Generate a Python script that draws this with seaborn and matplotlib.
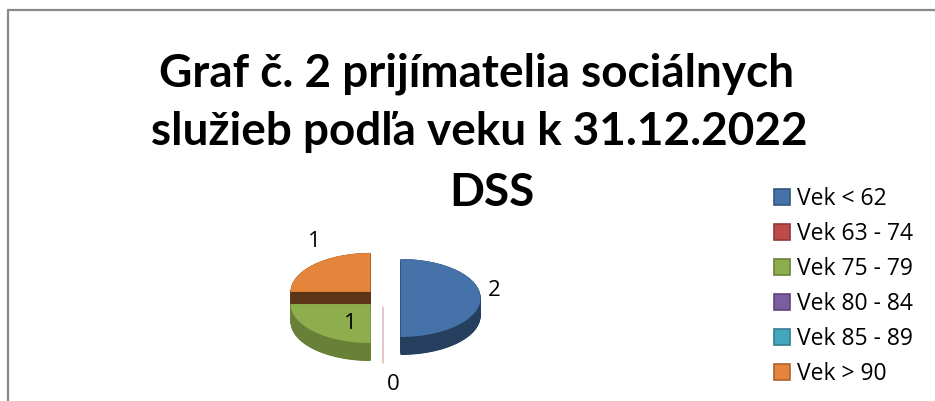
import numpy as np
import matplotlib
matplotlib.use("Agg")
import matplotlib.pyplot as plt
from matplotlib.patches import Patch
from matplotlib.lines import Line2D
import seaborn as sns

categories = ['Vek < 62', 'Vek 63 - 74', 'Vek 75 - 79', 'Vek 80 - 84', 'Vek 85 - 89', 'Vek > 90']
values = [2, 0, 1, 0, 0, 1]
title_lines = ['Graf č. 2 prijímatelia sociálnych', 'služieb podľa veku k 31.12.2022', 'DSS']

sns.set_style('white')
plt.rcParams['font.family'] = ['Open Sans', 'DejaVu Sans']
plt.rcParams['text.color'] = 'black'

top_cols = sns.color_palette(['#4672AA', '#BE4B48', '#8EAD4C', '#7B5EA0', '#44A7C0', '#E5853B'])
shade = [0.55, 0.6, 0.74, 0.6, 0.6, 0.4]
side_cols = [tuple(np.array(c) * s) for c, s in zip(top_cols, shade)]
legend_edges = [tuple(np.array(c) * 0.75) for c in top_cols]
zero_line = '#E6C6C6'

W, H = 935, 401
fig = plt.figure(figsize=(W / 100, H / 100), dpi=100)

# frame of the chart area
fig.add_artist(Line2D([8 / W, 8 / W], [0, 1 - 10 / H], color='#8A8A8A', lw=1.6))
fig.add_artist(Line2D([8 / W, 1], [1 - 10 / H, 1 - 10 / H], color='#8A8A8A', lw=1.6))

# pie axes, squashed vertically to look tilted
rx, ry = 80, 39
cx, cy = 383, 298
aw, ah = 400, 300
ax = fig.add_axes([(cx - aw / 2) / W, (H - cy - ah / 2) / H, aw / W, ah / H])

depth = 18 / ry
explode = [0.22] * len(values)

# side of the 3d pie
for k in np.linspace(depth, 0, 40):
    w_side, _ = ax.pie(values, colors=side_cols, explode=explode, startangle=90,
                       counterclock=False, center=(0, -k), wedgeprops=dict(linewidth=0))
    w_side[1].set_edgecolor(zero_line)
    w_side[1].set_linewidth(1.2)

# top face
wedges, _ = ax.pie(values, colors=top_cols, explode=explode, startangle=90,
                   counterclock=False, wedgeprops=dict(linewidth=0))

ax.set_aspect('auto')
ax.set_xlim(-aw / 2 / rx, aw / 2 / rx)
ax.set_ylim(-ah / 2 / ry, ah / 2 / ry)
ax.axis('off')

# data labels (px distance from centre, None = hidden like in the original)
label_dist = [111, 87, 40, None, None, 89]
label_shift = [(0, 7), (10, 0), (-4, 3), (0, 0), (0, 0), (-6, -6)]
for w, v, d, (sx, sy) in zip(wedges, values, label_dist, label_shift):
    if d is None:
        continue
    mid = np.deg2rad((w.theta1 + w.theta2) / 2)
    ax.text((d * np.cos(mid) + sx) / rx, (d * np.sin(mid) + sy) / ry, str(v),
            ha='center', va='center', fontsize=16)

title_y = [74, 132, 193]
title_x = [477, 479, 492]
for t, x, y in zip(title_lines, title_x, title_y):
    fig.text(x / W, 1 - y / H, t, ha='center', va='center',
             fontsize=33, fontweight='bold', family=['Lato', 'DejaVu Sans'])

handles = [Patch(facecolor=c, edgecolor=e, linewidth=1.2) for c, e in zip(top_cols, legend_edges)]
fig.legend(handles, categories, loc='upper left', bbox_to_anchor=(774 / W, 1 - 187 / H),
           frameon=False, fontsize=16.5, handlelength=0.7, handleheight=0.7,
           handletextpad=0.3, labelspacing=0.48, borderaxespad=0, borderpad=0)

fig.savefig('out.png', dpi=100)
